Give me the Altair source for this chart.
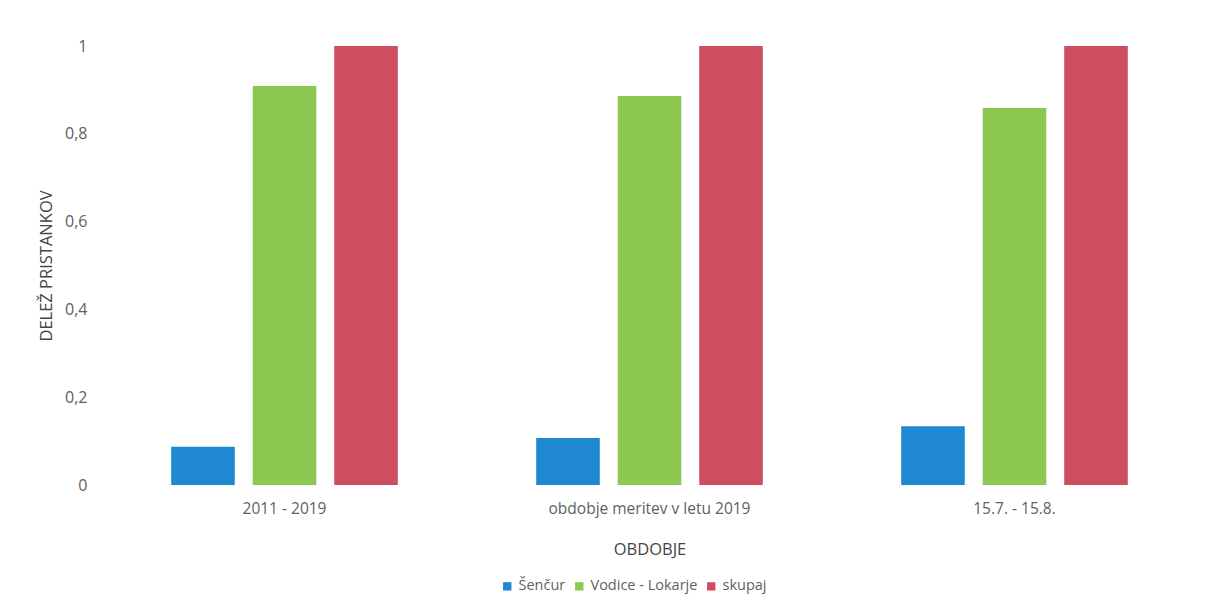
import altair as alt
import pandas as pd

categories = ["2011 - 2019", "obdobje meritev v letu 2019", "15.7. - 15.8."]
series = ["Šenčur", "Vodice - Lokarje", "skupaj"]
vals_sencur = [0.087, 0.107, 0.134]
vals_vodice = [0.909, 0.886, 0.859]
vals_skupaj = [1.0, 1.0, 1.0]
colors = ["#1f88d2", "#8cc752", "#cf4d60"]

rows = []
for i, c in enumerate(categories):
    for s, vals in zip(series, [vals_sencur, vals_vodice, vals_skupaj]):
        rows.append({"obdobje": c, "serija": s, "vrednost": vals[i]})
df = pd.DataFrame(rows)

FONT = "Open Sans"
GRAY = "#5f5f5f"
DARK = "#454545"

chart = alt.Chart(df).mark_bar().encode(
    x=alt.X("obdobje:N", sort=categories,
            scale=alt.Scale(paddingInner=0.33, paddingOuter=0.165),
            axis=alt.Axis(title="OBDOBJE", labelAngle=0, domain=False, ticks=False,
                          labelPadding=16, titlePadding=25, labelFontSize=15.5,
                          labelLimit=500, titleFontSize=16.5, titleFontWeight="normal",
                          labelColor=GRAY, titleColor=DARK, labelFont=FONT, titleFont=FONT)),
    xOffset=alt.XOffset("serija:N", sort=series,
                        scale=alt.Scale(paddingInner=0.22, paddingOuter=0.11)),
    y=alt.Y("vrednost:Q", scale=alt.Scale(domain=[0, 1], nice=False),
            axis=alt.Axis(title="DELEŽ PRISTANKOV", values=[0, 0.2, 0.4, 0.6, 0.8, 1],
                          labelExpr="replace(format(datum.value, '.1~f'), '.', ',')",
                          domain=False, ticks=False, grid=False, labelPadding=15,
                          titlePadding=10, labelFontSize=16, titleFontSize=16.5,
                          titleFontWeight="normal", labelColor=GRAY, titleColor=DARK,
                          labelFont=FONT, titleFont=FONT)),
    color=alt.Color("serija:N", sort=series,
                    scale=alt.Scale(domain=series, range=colors),
                    legend=alt.Legend(title=None, orient="none", direction="horizontal",
                                      legendX=398, legendY=533, symbolType="square",
                                      symbolSize=70, labelFontSize=14.5, labelColor=GRAY,
                                      labelFont=FONT, columnPadding=6, symbolOffset=0,
                                      labelOffset=4)),
).properties(
    width=1095, height=439,
    autosize=alt.AutoSizeParams(type="none"),
    padding={"left": 102, "top": 46, "right": 11, "bottom": 126},
).configure(background="white").configure_view(strokeWidth=0)

chart.save("out.html", embed_options={"renderer": "svg", "actions": False})
